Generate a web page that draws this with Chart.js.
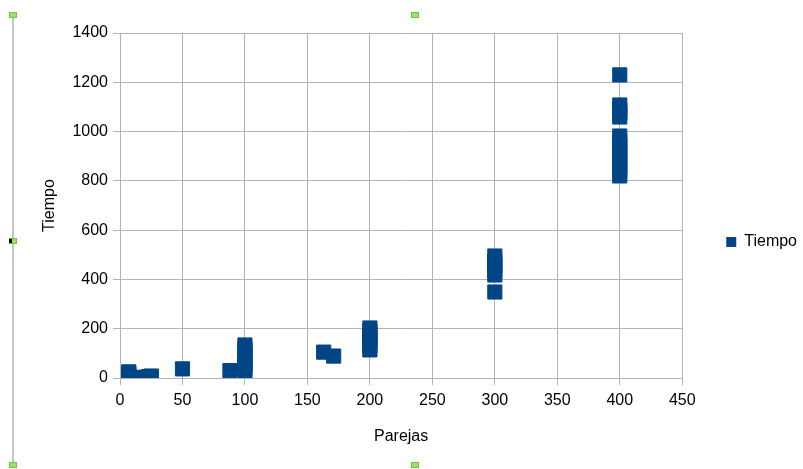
<!DOCTYPE html>
<html>
<head>
<meta charset="utf-8">
<script src="https://cdn.jsdelivr.net/npm/chart.js"></script>
<style>
  html, body { margin: 0; padding: 0; background: #ffffff; }
  #wrap { width: 803px; height: 469px; position: relative; }
</style>
</head>
<body>
<div id="wrap"><canvas id="c" width="803" height="469"></canvas></div>
<script>
// Pairs (Parejas) versus measured time (Tiempo)
const parejas = [
  7, 7, 7, 7, 7,
  19, 21, 23, 25, 25,
  50,
  88,
  100, 100, 100, 100, 100, 100, 100, 100,
  163, 171,
  200, 200, 200, 200, 200, 200, 200,
  300, 300, 300, 300, 300, 300,
  400, 400, 400, 400, 400, 400, 400, 400, 400,
  400, 400, 400, 400,
  400
];
const tiempo = [
  2, 8, 14, 20, 25,
  3, 1, 6, 2, 8,
  37,
  30,
  24, 40, 55, 70, 85, 100, 118, 134,
  105, 89,
  114, 130, 145, 160, 175, 190, 203,
  349, 418, 435, 455, 475, 495,
  820, 840, 860, 880, 900, 920, 940, 960, 982,
  1059, 1075, 1090, 1108,
  1230
];
const xTicks = [0, 50, 100, 150, 200, 250, 300, 350, 400, 450];
const yTicks = [0, 200, 400, 600, 800, 1000, 1200, 1400];

const seriesName = 'Tiempo';
const seriesColor = '#004586';
const gridColor = '#b3b3b3';
const font = { family: 'Liberation Sans', size: 16 };

// selection frame of the embedded chart object
const framePlugin = {
  id: 'frame',
  afterDraw(chart) {
    const ctx = chart.ctx;
    ctx.save();
    ctx.fillStyle = '#c6c6c6';
    ctx.fillRect(12, 14, 2, 452);
    const handles = [[13, 15], [13, 241], [13, 465], [415, 15], [415, 465]];
    handles.forEach(([hx, hy]) => {
      ctx.fillStyle = '#72c43a';
      ctx.fillRect(hx - 4, hy - 3, 8, 6);
      ctx.fillStyle = '#9be06a';
      ctx.fillRect(hx - 3, hy - 2, 6, 4);
    });
    ctx.fillStyle = '#000000';
    ctx.fillRect(9, 239, 3, 4);
    ctx.restore();
  }
};

new Chart(document.getElementById('c'), {
  type: 'scatter',
  data: {
    datasets: [{
      label: seriesName,
      data: parejas.map((x, i) => ({ x: x, y: tiempo[i] })),
      backgroundColor: seriesColor,
      borderColor: seriesColor,
      borderWidth: 1,
      pointStyle: 'rect',
      pointRadius: 10,
      pointHoverRadius: 10
    }]
  },
  options: {
    responsive: false,
    animation: false,
    devicePixelRatio: 1,
    layout: { padding: { left: 0, top: 33, right: -4, bottom: 18 } },
    plugins: {
      tooltip: { enabled: false },
      legend: {
        position: 'right',
        align: 'center',
        labels: {
          color: '#000000',
          font: font,
          boxWidth: 10,
          boxHeight: 10,
          padding: 1,
          generateLabels(chart) {
            return [{
              text: seriesName,
              fillStyle: seriesColor,
              strokeStyle: seriesColor,
              lineWidth: 0,
              datasetIndex: 0
            }];
          }
        }
      }
    },
    scales: {
      x: {
        type: 'linear',
        position: 'bottom',
        min: 0,
        max: 450,
        afterBuildTicks(s) { s.ticks = xTicks.map(v => ({ value: v })); },
        afterFit(s) { s.height = 73; },
        ticks: { color: '#000000', font: font, padding: 6, maxRotation: 0, callback: v => String(v) },
        grid: { color: gridColor, tickLength: 7, tickColor: gridColor },
        border: { color: gridColor },
        title: {
          display: true,
          text: 'Parejas',
          color: '#000000',
          font: font,
          padding: { top: 0, bottom: 5 }
        }
      },
      y: {
        type: 'linear',
        position: 'left',
        min: 0,
        max: 1400,
        afterBuildTicks(s) { s.ticks = yTicks.map(v => ({ value: v })); },
        afterFit(s) { s.width = 120; },
        ticks: { color: '#000000', font: font, padding: 5, callback: v => String(v) },
        grid: { color: gridColor, tickLength: 7, tickColor: gridColor },
        border: { color: gridColor },
        title: {
          display: true,
          text: 'Tiempo',
          color: '#000000',
          font: font,
          padding: { top: 40, bottom: 0 }
        }
      },
      gap: {
        type: 'linear',
        position: 'right',
        display: true,
        afterFit(s) { s.width = 43; },
        ticks: { display: false },
        grid: { display: false, drawTicks: false },
        border: { display: false }
      }
    }
  },
  plugins: [framePlugin]
});
</script>
</body>
</html>
